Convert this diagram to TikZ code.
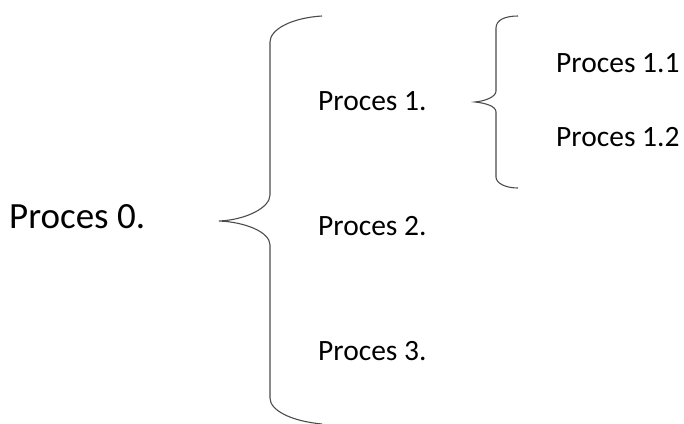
\documentclass[tikz,border=0pt]{standalone}
\usepackage{fontspec}
\setmainfont{Carlito}
\usepackage{tikz}
\usetikzlibrary{positioning}

\tikzset{
    proc/.style={anchor=base west, inner sep=0pt, font=\fontsize{29.5}{35}\selectfont},
    brace/.style={line width=1.1pt, draw=black!70}
}

\begin{document}
\begin{tikzpicture}[x=1pt, y=-1pt]
        \useasboundingbox (0,0) rectangle (684,423);

        % Texte
        \node[proc, font=\fontsize{37}{44}\selectfont] (p0) at (9,228) {Proces 0.};
        \node[proc] (p1) at (318,110) {Proces 1.};
        \node[proc] (p2) at (318,235) {Proces 2.};
        \node[proc] (p3) at (318,360) {Proces 3.};
        \node[proc] (p11) at (556,72) {Proces 1.1};
        \node[proc] (p12) at (556,146) {Proces 1.2};

        % grosse Klammer
        \draw[brace] (322,16) .. controls (290,18) and (270,30) .. (270,42) -- (270,195)
            .. controls (270,208) and (245,220) .. (219,221)
            .. controls (245,222) and (270,232) .. (270,245) -- (270,398)
            .. controls (270,410) and (290,421) .. (322,424);

        % kleine Klammer
        \draw[brace] (518,16) .. controls (505,16) and (496,20) .. (496,28) -- (496,91)
            .. controls (496,97) and (485,101) .. (475,102)
            .. controls (485,103) and (496,106) .. (496,112) -- (496,177)
            .. controls (496,183) and (505,188) .. (518,188);
\end{tikzpicture}
\end{document}
